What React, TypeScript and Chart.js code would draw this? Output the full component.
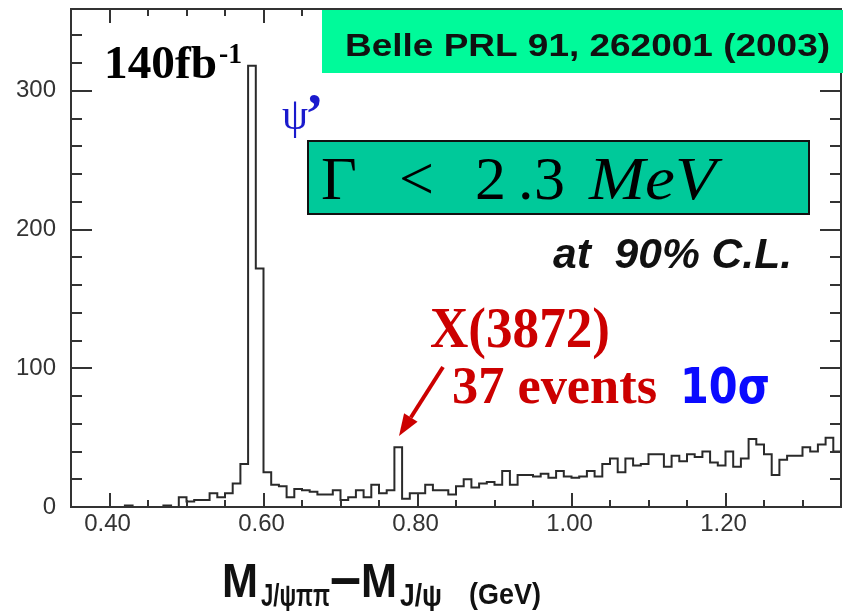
import { useEffect, useRef } from "react";
import { Chart, registerables } from "chart.js";

Chart.register(...registerables);

// M(J/ψππ) − M(J/ψ) spectrum, 10 MeV bins starting at 0.35 GeV
const binStart = 0.35;
const binWidth = 0.01;
const binCounts = [
  0, 0, 0, 0, 0, 0, 0, 1, 0, 0,
  0, 0, 1, 0, 7, 4, 5, 5, 10, 7,
  10, 17, 31, 318, 172, 25, 16, 15, 7, 13,
  12, 11, 9, 9, 12, 5, 7, 12, 7, 16,
  10, 12, 43, 6, 10, 10, 16, 12, 12, 9,
  15, 20, 14, 17, 18, 16, 26, 16, 23, 23,
  22, 24, 21, 26, 22, 21, 22, 26, 22, 31,
  35, 25, 35, 30, 31, 38, 38, 29, 37, 33,
  38, 36, 40, 32, 30, 40, 29, 35, 49, 45,
  38, 23, 34, 37, 37, 43, 40, 45, 50, 40,
];

const xMin = 0.35;
const xMax = 1.35;
const yMin = 0;
const yMax = 359;

const xMajorTicks = [0.4, 0.6, 0.8, 1.0, 1.2];
const xTickLabels = ["0.40", "0.60", "0.80", "1.00", "1.20"];
const xMinorStep = 0.05;
const yMajorTicks = [0, 100, 200, 300];
const yTickLabels = ["0", "100", "200", "300"];
const yMinorStep = 20;

const SANS = '"Liberation Sans", Arial, sans-serif';
const SERIF = '"Liberation Serif", "Times New Roman", serif';

// draw text squeezed/stretched horizontally to a given advance width
function fitText(
  ctx: CanvasRenderingContext2D,
  text: string,
  x: number,
  y: number,
  width: number,
  font: string,
  color: string
) {
  ctx.save();
  ctx.font = font;
  ctx.textAlign = "left";
  ctx.textBaseline = "alphabetic";
  const w = ctx.measureText(text).width;
  ctx.translate(x, y);
  ctx.scale(width / w, 1);
  ctx.fillStyle = color;
  ctx.fillText(text, 0, 0);
  ctx.restore();
}

function plainText(
  ctx: CanvasRenderingContext2D,
  text: string,
  x: number,
  y: number,
  font: string,
  color: string
) {
  ctx.save();
  ctx.font = font;
  ctx.textAlign = "left";
  ctx.textBaseline = "alphabetic";
  ctx.fillStyle = color;
  ctx.fillText(text, x, y);
  ctx.restore();
}

const framePlugin = {
  id: "frameAndNotes",
  afterDraw(chart: any) {
    const { ctx, chartArea: a, scales } = chart;
    const xs = scales.x;
    const ys = scales.y;
    ctx.save();

    // frame
    ctx.strokeStyle = "#333";
    ctx.lineWidth = 2;
    ctx.strokeRect(a.left, a.top, a.right - a.left, a.bottom - a.top);

    // inward ticks on all four sides
    ctx.beginPath();
    const nx = Math.round((xMax - xMin) / xMinorStep);
    for (let k = 1; k < nx; k++) {
      const v = xMin + k * xMinorStep;
      const major = xMajorTicks.some((m) => Math.abs(m - v) < 1e-6);
      const len = major ? 14 : 7;
      const px = Math.round(xs.getPixelForValue(v));
      ctx.moveTo(px, a.bottom);
      ctx.lineTo(px, a.bottom - len);
      ctx.moveTo(px, a.top);
      ctx.lineTo(px, a.top + len);
    }
    for (let v = yMin + yMinorStep; v < yMax; v += yMinorStep) {
      const major = yMajorTicks.includes(v);
      const len = major ? 21 : 11;
      const py = Math.round(ys.getPixelForValue(v));
      ctx.moveTo(a.left, py);
      ctx.lineTo(a.left + len, py);
      ctx.moveTo(a.right, py);
      ctx.lineTo(a.right - len, py);
    }
    ctx.stroke();

    // tick labels
    ctx.fillStyle = "#333";
    ctx.font = `24px ${SANS}`;
    ctx.textAlign = "center";
    ctx.textBaseline = "alphabetic";
    xMajorTicks.forEach((v, i) => {
      ctx.fillText(xTickLabels[i], xs.getPixelForValue(v) - 2, 531);
    });
    ctx.textAlign = "right";
    ctx.textBaseline = "middle";
    yMajorTicks.forEach((v, i) => {
      ctx.fillText(yTickLabels[i], 56, ys.getPixelForValue(v));
    });

    // axis title
    const bold48 = `bold 48px ${SANS}`;
    const bold32 = `bold 32px ${SANS}`;
    fitText(ctx, "M", 222, 597, 36, bold48, "#111");
    fitText(ctx, "J/ψππ", 261, 606, 69, bold32, "#111");
    fitText(ctx, "–", 330, 597, 31, `bold 60px ${SANS}`, "#111");
    fitText(ctx, "M", 361, 597, 36, bold48, "#111");
    fitText(ctx, "J/ψ", 400, 606, 42, bold32, "#111");
    fitText(ctx, "(GeV)", 469, 604, 72, `bold 30px ${SANS}`, "#111");

    // luminosity
    fitText(ctx, "140fb", 104, 78, 113, `bold 46px ${SERIF}`, "#000");
    fitText(ctx, "-1", 219, 63, 23, `bold 30px ${SERIF}`, "#000");

    // reference box
    ctx.fillStyle = "#00FA9A";
    ctx.fillRect(322, 10, 521, 63);
    fitText(ctx, "Belle PRL 91, 262001 (2003)", 345, 56, 485, `bold 32px ${SANS}`, "#111");

    // ψ' label
    fitText(ctx, "ψ", 282, 129, 26, `44px ${SERIF}`, "#1a1acd");
    plainText(ctx, "’", 305, 133, `bold 56px ${SERIF}`, "#1a1acd");

    // width limit box
    ctx.fillStyle = "#00C99A";
    ctx.fillRect(308, 141, 501, 73);
    ctx.strokeStyle = "#111";
    ctx.lineWidth = 2;
    ctx.strokeRect(308, 141, 501, 73);
    const f62 = `62px ${SERIF}`;
    plainText(ctx, "Γ", 321, 199, f62, "#000");
    plainText(ctx, "<", 399, 199, f62, "#000");
    plainText(ctx, "2", 475, 199, f62, "#000");
    plainText(ctx, ".", 518, 199, f62, "#000");
    plainText(ctx, "3", 534, 199, f62, "#000");
    fitText(ctx, "MeV", 589, 199, 127, `italic 62px ${SERIF}`, "#000");

    fitText(ctx, "at  90% C.L.", 553, 268, 239, `italic bold 42px ${SANS}`, "#111");

    // X(3872) label and arrow
    const red = "#CC0000";
    fitText(ctx, "X(3872)", 430, 347, 180, `bold 56px ${SERIF}`, red);
    fitText(ctx, "37 events", 452, 403, 205, `bold 52px ${SERIF}`, red);
    fitText(ctx, "10σ", 680, 403, 90, `bold 50px "DejaVu Sans", sans-serif`, "#0a0aff");

    const tipX = 399;
    const tipY = 436;
    const tailX = 443;
    const tailY = 367;
    const ang = Math.atan2(tipY - tailY, tipX - tailX);
    const headLen = 22;
    const headHalf = 8;
    const baseX = tipX - headLen * Math.cos(ang);
    const baseY = tipY - headLen * Math.sin(ang);
    ctx.strokeStyle = red;
    ctx.lineWidth = 4;
    ctx.beginPath();
    ctx.moveTo(tailX, tailY);
    ctx.lineTo(baseX, baseY);
    ctx.stroke();
    ctx.fillStyle = red;
    ctx.beginPath();
    ctx.moveTo(tipX, tipY);
    ctx.lineTo(baseX + headHalf * Math.sin(ang), baseY - headHalf * Math.cos(ang));
    ctx.lineTo(baseX - headHalf * Math.sin(ang), baseY + headHalf * Math.cos(ang));
    ctx.closePath();
    ctx.fill();

    ctx.restore();
  },
};

export default function App() {
  const canvasRef = useRef<HTMLCanvasElement | null>(null);

  useEffect(() => {
    const canvas = canvasRef.current;
    if (!canvas) return;

    // bin edges: each count is held from its low edge to the next edge
    const points = binCounts.map((c, i) => ({ x: binStart + i * binWidth, y: c }));
    points.push({
      x: binStart + binCounts.length * binWidth,
      y: binCounts[binCounts.length - 1],
    });

    const chart = new Chart(canvas, {
      type: "line",
      data: {
        datasets: [
          {
            data: points,
            stepped: "before",
            borderColor: "#2a2a2a",
            borderWidth: 2,
            pointRadius: 0,
            fill: false,
          },
        ],
      },
      options: {
        responsive: false,
        animation: false,
        devicePixelRatio: 1,
        layout: { padding: { left: 71, right: 2, top: 9, bottom: 104 } },
        plugins: {
          legend: { display: false },
          tooltip: { enabled: false },
          title: { display: false },
        },
        scales: {
          x: { type: "linear", min: xMin, max: xMax, display: false },
          y: { type: "linear", min: yMin, max: yMax, display: false },
        },
      },
      plugins: [framePlugin],
    });

    return () => chart.destroy();
  }, []);

  return (
    <div style={{ position: "fixed", left: 0, top: 0, width: 843, height: 611, background: "#fff" }}>
      <canvas ref={canvasRef} width={843} height={611} style={{ display: "block" }} />
    </div>
  );
}
